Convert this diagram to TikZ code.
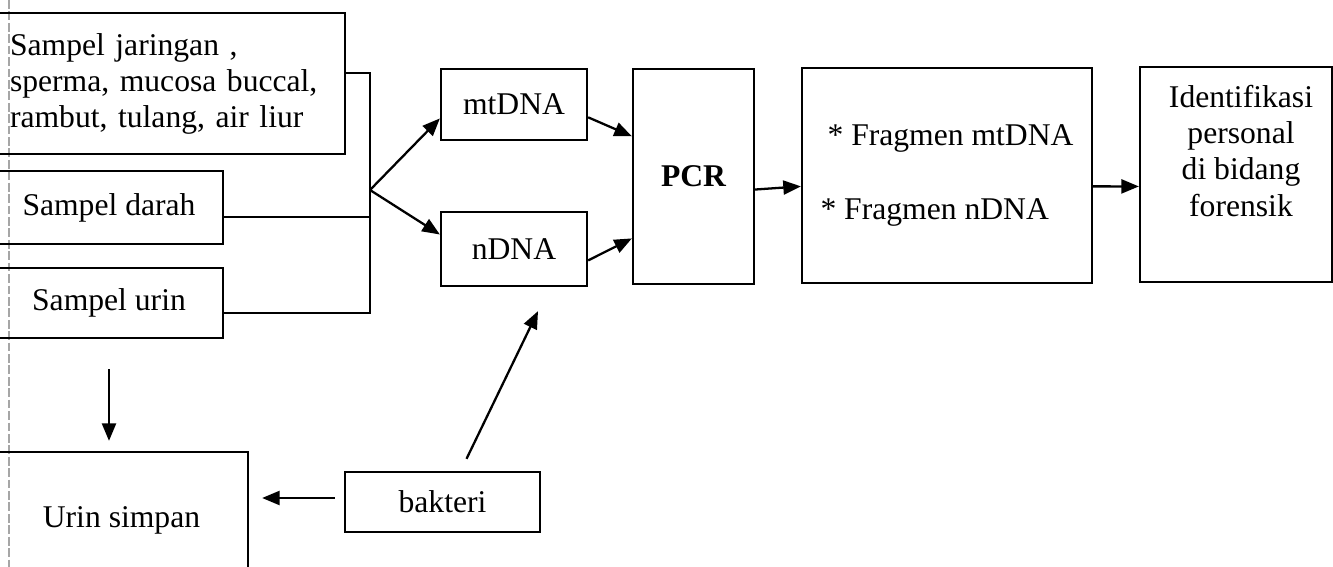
\documentclass[tikz,border=0pt]{standalone}
\usepackage{fontspec}
\setmainfont{Liberation Serif}
\usetikzlibrary{arrows.meta,calc}
\tikzset{
  % plain box
  bx/.style={rectangle,draw,line width=1.3pt,inner sep=0pt,align=center},
  % connector line and arrow
  ln/.style={line width=1.3pt},
  arr/.style={-{Triangle[length=10pt,width=8pt]},line width=1.3pt}
}
\begin{document}
\begin{tikzpicture}[x=0.02cm,y=-0.02cm,font=\fontsize{18}{20.5}\selectfont]
  \useasboundingbox (0,0) rectangle (1333,567);
  \clip (0,0) rectangle (1333,567);
  % faint margin line on the left
  \draw[black!35,line width=0.6pt,dash pattern=on 5pt off 1.5pt] (9,0) -- (9,567);
  % sample boxes, left column
  \node[bx,align=left,text width=6.4cm,inner xsep=0.3cm,minimum height=2.82cm] (jaringan) at (170,83.5)
    {Sampel jaringan ,\\sperma, mucosa buccal,\\rambut, tulang, air liur};
  \node[bx,minimum width=4.56cm,minimum height=1.46cm] (darah) at (109,207.5) {Sampel darah};
  \node[bx,minimum width=4.56cm,minimum height=1.4cm] (urin) at (109,303) {Sampel urin};
  \node[bx,minimum width=5.06cm,minimum height=2.72cm] (simpan) at (121.5,520) {Urin simpan};
  \node[bx,minimum width=3.9cm,minimum height=1.2cm] (bakteri) at (442.5,502) {bakteri};
  % DNA and processing chain
  \node[bx,minimum width=2.92cm,minimum height=1.42cm] (mtdna) at (514,104.5) {mtDNA};
  \node[bx,minimum width=2.92cm,minimum height=1.48cm] (ndna) at (514,249) {nDNA};
  \node[bx,minimum width=2.42cm,minimum height=4.3cm,font=\fontsize{18}{20.5}\selectfont\bfseries] (pcr) at (693.5,176.5) {PCR};
  \node[bx,align=left,minimum width=5.8cm,minimum height=4.3cm] (frag) at (947,175.5)
    {\hspace*{4pt}* Fragmen mtDNA\\[22pt]* Fragmen nDNA};
  \node[bx,minimum width=3.84cm,minimum height=4.3cm] (ident) at (1236,174.5) {};
  \node[align=center,inner sep=0pt] (identtxt) at (1241,151)
    {Identifikasi\\personal\\di bidang\\forensik};
  % collecting bus
  \coordinate (busT) at (370,73);
  \coordinate (busM) at (370,217);
  \coordinate (busB) at (370,313);
  \coordinate (fork) at (370,190);
  \draw[ln] (jaringan.east |- busT) -- (busT) -- (busB) -- (urin.east |- busB);
  \draw[ln] (darah.east |- busM) -- (busM);
  \draw[arr] (fork) -- ($(mtdna.west)!0.38!(mtdna.south west)$);
  \draw[arr] (fork) -- ($(ndna.west)!0.38!(ndna.north west)$);
  % into PCR and on to the result
  \draw[arr] ($(mtdna.east)!0.35!(mtdna.south east)$) -- ($(pcr.west)!0.37!(pcr.north west)$);
  \draw[arr] ($(ndna.east)!0.3!(ndna.south east)$) -- ($(pcr.west)!0.57!(pcr.south west)$);
  \draw[arr] ($(pcr.east)!0.12!(pcr.south east)$) -- ($(frag.west)!0.1!(frag.south west)$);
  \draw[arr] ($(frag.east)!0.1!(frag.south east)$) -- ($(ident.west)!0.11!(ident.south west)$);
  % urine storage and bacteria
  \draw[arr] ($(urin.south)+(0,30)$) -- ($(urin.south |- simpan.north)+(0,-10)$);
  \draw[arr] ($(bakteri.west)+(-9,-4)$) -- ($(bakteri.west -| simpan.east)+(13,-4)$);
  \draw[arr] ($(bakteri.north)+(24,-12)$) -- ($(ndna.south)+(24,24)$);
\end{tikzpicture}
\end{document}
